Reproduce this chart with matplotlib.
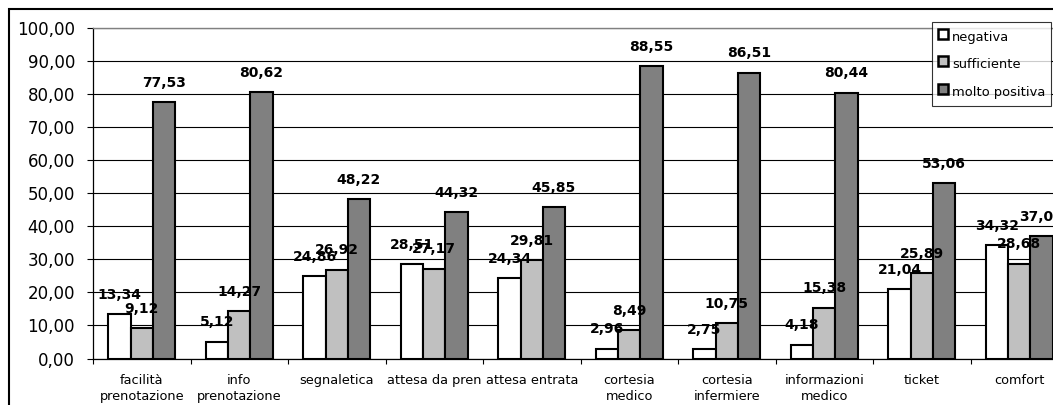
import matplotlib
matplotlib.use("Agg")
import matplotlib.pyplot as plt
from matplotlib.patches import Rectangle
from matplotlib.lines import Line2D
import numpy as np

plt.rcParams['font.family'] = ['DejaVu Sans']

categories = ["facilità\nprenotazione", "info\nprenotazione", "segnaletica",
              "attesa da pren", "attesa entrata", "cortesia\nmedico",
              "cortesia\ninfermiere", "informazioni\nmedico", "ticket", "comfort"]
negativa = [13.34, 5.12, 24.86, 28.51, 24.34, 2.96, 2.75, 4.18, 21.04, 34.32]
sufficiente = [9.12, 14.27, 26.92, 27.17, 29.81, 8.49, 10.75, 15.38, 25.89, 28.68]
molto_positiva = [77.53, 80.62, 48.22, 44.32, 45.85, 88.55, 86.51, 80.44, 53.06, 37.01]
series_names = ["negativa", "sufficiente", "molto positiva"]
y_ticks = [0, 10, 20, 30, 40, 50, 60, 70, 80, 90, 100]

series = [negativa, sufficiente, molto_positiva]
colors = ["#FFFFFF", "#C0C0C0", "#808080"]

W, H = 1053, 405
fig = plt.figure(figsize=(W / 100, H / 100), dpi=100)
fig.patch.set_facecolor("white")

# chart-area border (runs off the right and bottom edges)
fig.add_artist(Rectangle((9 / W, -0.2), 1.5, (H - 9) / H + 0.2,
                         transform=fig.transFigure, fill=False,
                         ec="black", lw=1.5, zorder=0))

left, right, top, bottom = 93, 1068, 28, 358.5
ax = fig.add_axes([left / W, (H - bottom) / H, (right - left) / W, (bottom - top) / H])

n = len(categories)
centers = np.arange(n) + 0.5
bw = 0.228

for k, (vals, col) in enumerate(zip(series, colors)):
    xs = centers + (k - 1) * bw
    ax.bar(xs, vals, width=bw, color=col, edgecolor="black", linewidth=1.5, zorder=3)
    for x, v in zip(xs, vals):
        ax.annotate(f"{v:.2f}".replace(".", ","), xy=(x, v), xytext=(0, 11),
                    textcoords="offset points", ha="center", va="baseline",
                    fontsize=10, fontweight="bold", zorder=5)

ax.set_xlim(0, n)
ax.set_ylim(0, 100)

ax.set_yticks(y_ticks)
ax.set_yticklabels([f"{t:.2f}".replace(".", ",") for t in y_ticks])
ax.yaxis.grid(True, color="black", linewidth=0.8, zorder=1)
ax.set_axisbelow(True)
ax.tick_params(axis="y", direction="out", length=4.5, width=0.8, pad=8.5,
               labelsize=12)

ax.set_xticks(centers)
ax.set_xticklabels(categories, fontsize=9.3, linespacing=1.3)
ax.set_xticks(np.arange(n + 1), minor=True)
ax.tick_params(axis="x", which="major", length=0, pad=11.5)
ax.tick_params(axis="x", which="minor", direction="out", length=3.5, width=0.8)

for s in ("left", "bottom"):
    ax.spines[s].set_color("black")
    ax.spines[s].set_linewidth(0.9)
for s in ("top", "right"):
    ax.spines[s].set_color("#808080")
    ax.spines[s].set_linewidth(1.0)

handles = [Line2D([], [], linestyle="none", marker="s", markersize=7.5,
                  markerfacecolor=c, markeredgecolor="black", markeredgewidth=1.8)
           for c in colors]
leg = fig.legend(handles, series_names, loc="upper left",
                 bbox_to_anchor=(932 / W, 1 - 22 / H), bbox_transform=fig.transFigure,
                 fontsize=9.4, frameon=True, fancybox=False, borderaxespad=0,
                 handlelength=0.9, handleheight=1.85, handletextpad=0.25,
                 labelspacing=0.65, borderpad=0.4)
leg.get_frame().set_edgecolor("black")
leg.get_frame().set_linewidth(0.8)
leg.set_zorder(10)

fig.savefig("out.png", dpi=100)
